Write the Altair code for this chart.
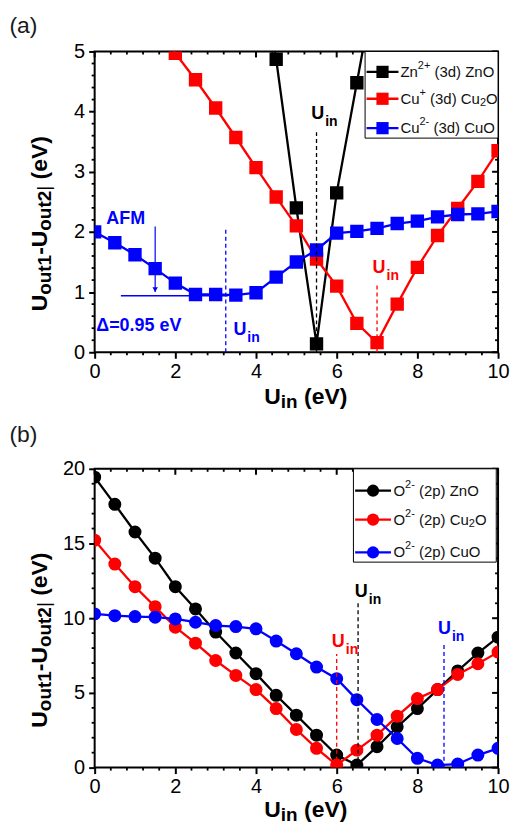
import altair as alt
import pandas as pd

# ---------------- panel (a): 3d levels ----------------
a_zn_x = [4.0, 4.5, 5.0, 5.5, 6.0, 6.5, 7.0]
a_zn_y = [7.20, 4.87, 2.40, 0.14, 2.65, 4.48, 6.30]
a_cu1_x = [1.5, 2.0, 2.5, 3.0, 3.5, 4.0, 4.5, 5.0, 5.5, 6.0, 6.5, 7.0, 7.5, 8.0, 8.5, 9.0, 9.5, 10.0]
a_cu1_y = [5.45, 4.97, 4.53, 4.06, 3.57, 3.07, 2.58, 2.10, 1.55, 1.10, 0.48, 0.16, 0.80, 1.41, 1.94, 2.39, 2.84, 3.35]
a_cu2_x = [0.0, 0.5, 1.0, 1.5, 2.0, 2.5, 3.0, 3.5, 4.0, 4.5, 5.0, 5.5, 6.0, 6.5, 7.0, 7.5, 8.0, 8.5, 9.0, 9.5, 10.0]
a_cu2_y = [2.00, 1.82, 1.62, 1.39, 1.15, 0.96, 0.96, 0.95, 0.99, 1.25, 1.50, 1.70, 1.98, 2.01, 2.06, 2.14, 2.18, 2.25, 2.29, 2.30, 2.34]
# legend labels: (text, kind) with kind n = normal, sup = superscript, sub = subscript
a_labels = [
    [("Zn", "n"), ("2+", "sup"), (" (3d) ZnO", "n")],
    [("Cu", "n"), ("+", "sup"), (" (3d) Cu", "n"), ("2", "sub"), ("O", "n")],
    [("Cu", "n"), ("2-", "sup"), (" (3d) CuO", "n")],
]

a_uin_line_x = [5.5, 7.0, 3.25]
a_uin_line_top = [3.70, 1.15, 2.06]
a_uin_text_x = [5.37, 6.89, 3.44]
a_uin_text_y = [3.87, 1.32, 0.28]
a_afm_level_x = [0.65, 3.30]
a_afm_level_y = [0.94]
a_afm_arrow_x = [1.5]
a_afm_arrow_y = [2.09, 1.00]
a_afm_text = "AFM"
a_afm_text_pos = [0.29, 2.21]
a_delta_text = "Δ=0.95 eV"
a_delta_text_pos = [0.04, 0.44]

# ---------------- panel (b): O 2p levels ----------------
b_x = [0.0, 0.5, 1.0, 1.5, 2.0, 2.5, 3.0, 3.5, 4.0, 4.5, 5.0, 5.5, 6.0, 6.5, 7.0, 7.5, 8.0, 8.5, 9.0, 9.5, 10.0]
b_zno_y = [19.44, 17.62, 15.77, 14.02, 12.11, 10.62, 9.07, 7.67, 6.29, 4.84, 3.51, 2.17, 0.84, 0.17, 1.40, 2.73, 3.95, 5.22, 6.47, 7.67, 8.73]
b_cu2o_y = [15.22, 13.62, 12.11, 10.77, 9.40, 8.33, 7.17, 6.17, 5.22, 3.95, 2.55, 1.29, 0.17, 1.17, 2.17, 3.44, 4.62, 5.22, 6.24, 6.95, 7.73]
b_cuo_y = [10.29, 10.17, 10.11, 10.07, 9.95, 9.73, 9.51, 9.44, 9.29, 8.47, 7.62, 6.73, 5.95, 4.55, 3.22, 1.95, 0.62, 0.17, 0.24, 0.84, 1.29]
b_labels = [
    [("O", "n"), ("2-", "sup"), (" (2p) ZnO", "n")],
    [("O", "n"), ("2-", "sup"), (" (2p) Cu", "n"), ("2", "sub"), ("O", "n")],
    [("O", "n"), ("2-", "sup"), (" (2p) CuO", "n")],
]

b_uin_line_x = [6.53, 6.0, 8.66]
b_uin_line_top = [11.2, 7.6, 8.4]
b_uin_text_x = [6.45, 5.88, 8.51]
b_uin_text_y = [11.41, 8.09, 8.97]

x_major = [0, 2, 4, 6, 8, 10]
a_y_major = [0, 1, 2, 3, 4, 5]
b_y_major = [0, 5, 10, 15, 20]

# ---------------- styles / layout ----------------
FONT = "Liberation Sans"
COLORS = ["#000000", "#ff0000", "#0000ff"]
W = 405
HA = 302
HB = 300
ONE = pd.DataFrame({"k": [0]})

BOLD_W = {"U": .722, "o": .611, "u": .611, "t": .333, "1": .556, "2": .556, "-": .333,
          "|": .28, " ": .278, "(": .333, "e": .556, "V": .667, ")": .333,
          "i": .278, "n": .611}
REG_W = {"Z": .611, "n": .556, "C": .722, "u": .556, "O": .778, " ": .278, "(": .333,
         ")": .333, "3": .556, "d": .556, "2": .556, "p": .556, "+": .584, "-": .333,
         "|": .26}


def width(s, fs, weight):
    table = BOLD_W if weight == "bold" else REG_W
    return sum(table.get(c, 0.556) for c in s) * fs


def const_text(txt, x, y, size, color="black", weight="bold", font=FONT, angle=0,
               dx=0, dy=0, align="left", baseline="alphabetic"):
    kw = dict(text=txt, fontSize=size, font=font, fontWeight=weight, color=color,
              align=align, baseline=baseline, dx=dx, dy=dy)
    if angle:
        kw["angle"] = angle
    return alt.Chart(ONE).mark_text(**kw).encode(x=alt.value(x), y=alt.value(y))


def rich(pieces, x, y, angle=0, color="black", baseline="alphabetic"):
    layers, off = [], 0.0
    for txt, fs, weight, drop in pieces:
        core = txt.strip(" ")
        lead = len(txt) - len(txt.lstrip(" "))
        start = off + width(" " * lead, fs, weight)
        layers.append(const_text(core, x, y, fs, color, weight, angle=angle,
                                 dx=round(start, 2), dy=drop, baseline=baseline))
        off += width(txt, fs, weight)
    return layers, off


def axis_def(values, pad):
    return alt.Axis(values=values, title=None, grid=False, domain=False, ticks=True,
                    tickSize=6, tickWidth=2, tickColor="black", labelFont=FONT,
                    labelFontSize=20, labelColor="black", labelPadding=pad,
                    labelFlush=False, labelOverlap=False, format="d")


class Panel:
    def __init__(self, ymax, ymaj):
        self.xsc = alt.Scale(domain=[0, 10], nice=False, zero=False)
        self.ysc = alt.Scale(domain=[0, ymax], nice=False, zero=False)
        self.xax = axis_def(x_major, 3)
        self.yax = axis_def(ymaj, 4)

    def X(self, f):
        return alt.X(f, scale=self.xsc, axis=self.xax)

    def Y(self, f):
        return alt.Y(f, scale=self.ysc, axis=self.yax)


def tick_layers(P, xmin, ymaj, ymin, H):
    L = []

    def xr(vals, a, b, sw):
        L.append(alt.Chart(pd.DataFrame({"v": vals})).mark_rule(color="black", strokeWidth=sw)
                 .encode(x=P.X("v:Q"), y=alt.value(a), y2=alt.value(b)))

    def yr(vals, a, b, sw):
        L.append(alt.Chart(pd.DataFrame({"v": vals})).mark_rule(color="black", strokeWidth=sw)
                 .encode(y=P.Y("v:Q"), x=alt.value(a), x2=alt.value(b)))

    xr(xmin, H, H + 3, 1.8)
    xr(xmin, 0, 3, 1.8)
    xr(x_major, 0, 6, 2)
    yr(ymin, -3, 0, 1.8)
    yr(ymin, W - 3, W, 1.8)
    yr(ymaj, W - 6, W, 2)
    return L


def series_layers(P, xv, yv, color, shape, size):
    df = pd.DataFrame({"x": xv, "y": yv})
    line = alt.Chart(df).mark_line(color=color, strokeWidth=2.3, clip=True).encode(
        x=P.X("x:Q"), y=P.Y("y:Q"))
    pts = alt.Chart(df).mark_point(shape=shape, filled=True, size=size, color=color,
                                   opacity=1, clip=True).encode(x=P.X("x:Q"), y=P.Y("y:Q"))
    return [line, pts]


def uin_layers(P, lx, ltop, tx, ty, colors):
    L = []
    for x, top, c in zip(lx, ltop, colors):
        df = pd.DataFrame({"x": [x], "y0": [0.0], "y1": [top]})
        L.append(alt.Chart(df).mark_rule(color=c, strokeDash=[4, 3], strokeWidth=1.3).encode(
            x=P.X("x:Q"), y=P.Y("y0:Q"), y2="y1:Q"))
    for x, y, c in zip(tx, ty, colors):
        df = pd.DataFrame({"x": [x], "y": [y]})
        L.append(alt.Chart(df).mark_text(text="U", font=FONT, fontSize=18, fontWeight="bold",
                                         color=c, align="left", baseline="alphabetic").encode(
            x=P.X("x:Q"), y=P.Y("y:Q")))
        L.append(alt.Chart(df).mark_text(text="in", font=FONT, fontSize=14, fontWeight="bold",
                                         color=c, align="left", baseline="alphabetic",
                                         dx=14, dy=7).encode(x=P.X("x:Q"), y=P.Y("y:Q")))
    return L


KIND = {"n": (15, 0), "sup": (11, -6), "sub": (11, 4)}


def legend_layers(labels, shape, box, rows_y, line_x, mark_x, text_x, msize):
    L = [alt.Chart(ONE).mark_rect(fill="white", stroke="black", strokeWidth=1).encode(
        x=alt.value(box[0]), x2=alt.value(box[1]), y=alt.value(box[2]), y2=alt.value(box[3]))]
    for lab, col, ry in zip(labels, COLORS, rows_y):
        L.append(alt.Chart(ONE).mark_rule(color=col, strokeWidth=2.3).encode(
            x=alt.value(line_x[0]), x2=alt.value(line_x[1]), y=alt.value(ry)))
        L.append(alt.Chart(ONE).mark_point(shape=shape, filled=True, size=msize, color=col,
                                           opacity=1).encode(x=alt.value(mark_x), y=alt.value(ry)))
        pieces = [(t, KIND[k][0], "normal", KIND[k][1]) for t, k in lab]
        lay, _ = rich(pieces, text_x, ry, color="#111111", baseline="middle")
        L += lay
    return L


def titles(H, xbase):
    xpieces = [("U", 23, "bold", 0), ("in", 19, "bold", 4), (" (eV)", 23, "bold", 0)]
    _, xw = rich(xpieces, 0, 0)
    xt, _ = rich(xpieces, 212 - xw / 2, H + xbase)
    ypieces = [("U", 23, "bold", 0), ("out1", 19, "bold", 4), ("-", 23, "bold", 0),
               ("U", 23, "bold", 0), ("out2", 19, "bold", 4), ("|", 19, "normal", 3),
               (" (eV)", 23, "bold", 0)]
    _, yw = rich(ypieces, 0, 0, angle=270)
    yt, _ = rich(ypieces, -48, H / 2 + 22 + yw / 2, angle=270)
    return xt + yt


def minors(step, top, majors):
    out, v = [], 0.0
    while v <= top + 1e-9:
        if all(abs(v - m) > 1e-6 for m in majors):
            out.append(round(v, 3))
        v += step
    return out


# ---------------- panel (a) ----------------
PA = Panel(5, a_y_major)
la = []
la += series_layers(PA, a_zn_x, a_zn_y, COLORS[0], "square", 180)
la += tick_layers(PA, minors(0.4, 10, x_major), a_y_major, minors(0.2, 5, a_y_major), HA)
la += series_layers(PA, a_cu1_x, a_cu1_y, COLORS[1], "square", 180)
la += series_layers(PA, a_cu2_x, a_cu2_y, COLORS[2], "square", 180)
la += uin_layers(PA, a_uin_line_x, a_uin_line_top, a_uin_text_x, a_uin_text_y, COLORS)
lev = pd.DataFrame({"x": [a_afm_level_x[0]], "x2": [a_afm_level_x[1]], "y": a_afm_level_y})
la.append(alt.Chart(lev).mark_rule(color=COLORS[2], strokeWidth=1.5).encode(
    x=PA.X("x:Q"), x2="x2:Q", y=PA.Y("y:Q")))
arr = pd.DataFrame({"x": a_afm_arrow_x, "y": [a_afm_arrow_y[0]], "y2": [a_afm_arrow_y[1]]})
la.append(alt.Chart(arr).mark_rule(color=COLORS[2], strokeWidth=1.2).encode(
    x=PA.X("x:Q"), y=PA.Y("y:Q"), y2="y2:Q"))
head = pd.DataFrame({"x": a_afm_arrow_x, "y": [a_afm_arrow_y[1] + 0.04]})
la.append(alt.Chart(head).mark_point(shape="triangle-down", filled=True, size=30, color=COLORS[2],
                                     opacity=1).encode(x=PA.X("x:Q"), y=PA.Y("y:Q")))
for txt, pos in [(a_afm_text, a_afm_text_pos), (a_delta_text, a_delta_text_pos)]:
    d = pd.DataFrame({"x": [pos[0]], "y": [pos[1]], "t": [txt]})
    la.append(alt.Chart(d).mark_text(font=FONT, fontSize=18, fontWeight="bold", color=COLORS[2],
                                     align="left", baseline="middle").encode(
        x=PA.X("x:Q"), y=PA.Y("y:Q"), text="t:N"))
la += legend_layers(a_labels, "square", [W - 133.5, W, 0, 87], [20.5, 47.5, 77],
                    [W - 132, W - 100], W - 116, W - 98, 150)
la += titles(HA, 52)
la.append(const_text("(a)", -85.5, -25.7, 23, "#1a1a1a", "normal", baseline="middle"))
panel_a = alt.layer(*la).properties(width=W, height=HA)

# ---------------- panel (b) ----------------
PB = Panel(20, b_y_major)
lb = []
lb += series_layers(PB, b_x, b_zno_y, COLORS[0], "circle", 170)
lb += tick_layers(PB, minors(0.4, 10, x_major), b_y_major, minors(1, 20, b_y_major), HB)
lb += series_layers(PB, b_x, b_cu2o_y, COLORS[1], "circle", 170)
lb += series_layers(PB, b_x, b_cuo_y, COLORS[2], "circle", 170)
lb += uin_layers(PB, b_uin_line_x, b_uin_line_top, b_uin_text_x, b_uin_text_y, COLORS)
lb += legend_layers(b_labels, "circle", [W - 145.2, W - 1.8, 0, 93.7], [22, 51, 84],
                    [W - 143.5, W - 107.5], W - 125.5, W - 105, 150)
lb += titles(HB, 50)
lb.append(const_text("(b)", -85.5, -34, 23, "#1a1a1a", "normal", baseline="middle"))
panel_b = alt.layer(*lb).properties(width=W, height=HB)

chart = alt.vconcat(panel_a, panel_b, spacing=10).properties(
    padding={"left": 0, "top": 4, "right": 0, "bottom": 0}
).configure_view(stroke="black", strokeWidth=2)

chart.save("out.html", embed_options={"renderer": "svg", "actions": False})
